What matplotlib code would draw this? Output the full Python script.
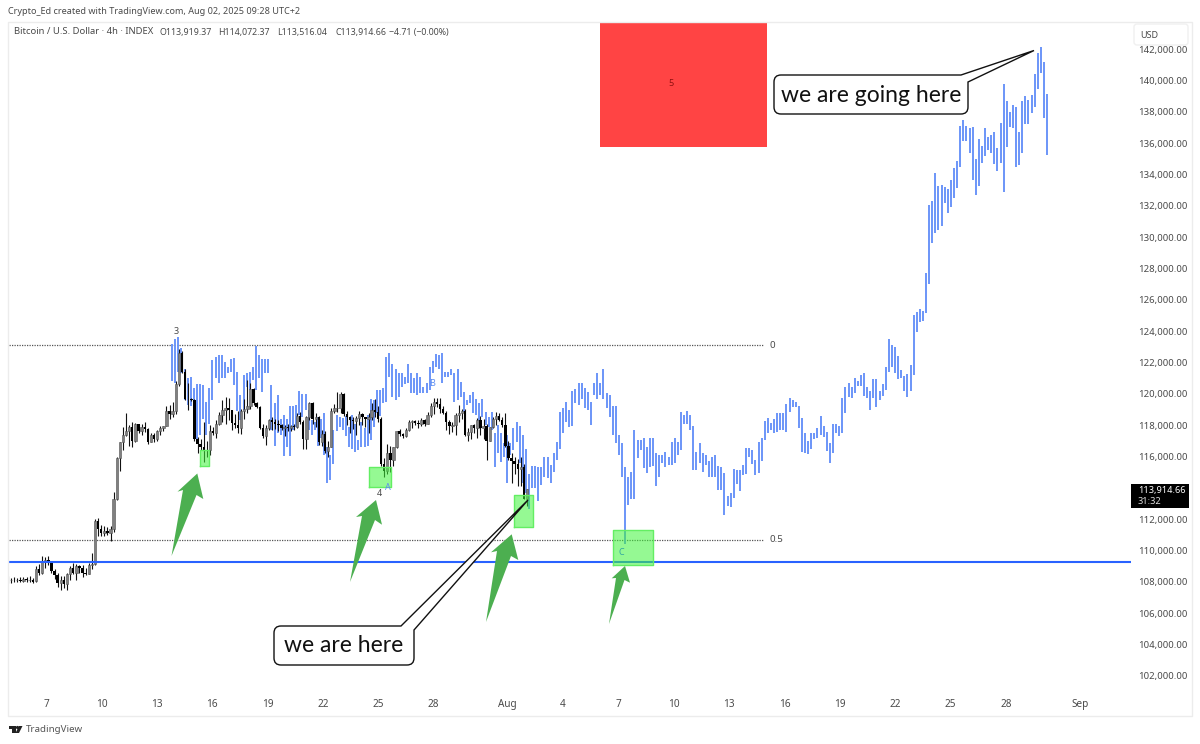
import pandas as pd
import numpy as np
import matplotlib
matplotlib.use('Agg')
import matplotlib.pyplot as plt
from matplotlib.patches import Polygon, Rectangle, FancyBboxPatch, PathPatch, Circle
from matplotlib.path import Path

# Black candles, 4h, in thousands of USD
candle_open = [108.2,108.1,108.15,108.1,108.15,108.05,108.2,108.1,108.15,108.05,108.85,108.55,109.3,109.4,109.2,108.7,108.45,107.95,108.15,107.85,
    108.5,108.9,108.6,109.0,108.9,108.6,108.5,109.1,109.15,111.9,111.4,111.1,111.25,111.1,111.4,113.3,115.9,116.9,117.4,117.6,
    117.9,117.0,118.05,117.6,117.9,117.75,116.95,117.35,117.1,117.6,117.8,117.95,118.9,118.7,118.9,120.6,122.6,121.4,119.7,119.65,
    119.6,117.1,116.8,116.6,116.4,116.4,117.65,117.5,118.1,118.65,119.0,119.1,118.95,118.15,118.0,117.85,118.9,119.05,119.2,120.3,
    119.4,119.15,117.85,117.3,117.85,118.3,118.2,118.05,118.0,117.85,117.9,117.85,117.95,117.9,118.6,118.2,117.1,118.5,119.4,118.4,
    118.55,116.9,117.45,116.35,116.6,118.9,119.1,119.1,120.0,118.7,118.5,118.3,118.25,118.45,118.7,118.5,118.4,118.5,119.0,118.85,
    118.4,115.5,115.1,116.2,115.8,116.6,117.6,117.45,117.3,117.7,118.2,118.25,118.15,118.05,118.3,118.1,118.65,119.2,119.5,119.35,
    119.05,118.8,118.2,117.95,118.0,118.65,118.8,118.9,117.4,117.55,118.0,117.8,118.3,117.8,117.95,117.0,117.9,118.4,118.6,
    118.35,118.0,116.7,115.9,115.7,115.5,115.2,115.3,113.3]
candle_high = [108.35,108.25,108.3,108.25,108.3,108.3,108.3,108.35,108.25,109.0,109.15,109.65,109.6,109.65,109.35,108.85,108.6,108.4,108.35,108.6,
    109.0,109.2,109.15,109.1,109.1,108.9,109.2,109.85,112.0,112.05,111.65,111.55,111.5,111.55,113.75,116.0,116.9,117.9,118.75,118.0,
    118.2,118.15,118.1,118.1,118.2,117.8,117.5,117.5,117.7,117.95,117.95,119.25,119.3,119.45,120.8,122.85,122.75,121.6,120.7,119.75,
    119.7,117.25,117.1,118.2,117.0,118.0,117.9,118.3,118.85,119.6,119.8,119.75,119.0,118.7,118.9,119.05,119.7,120.9,120.7,120.35,
    119.5,119.25,118.05,118.0,118.4,118.5,118.4,118.3,118.1,118.0,118.05,118.0,118.1,118.75,118.85,118.3,118.6,119.5,119.5,118.8,
    118.6,117.7,117.6,117.0,119.1,119.35,120.1,120.1,120.05,118.9,118.6,118.5,118.6,118.9,118.8,118.55,118.75,119.4,119.65,119.2,
    118.5,115.9,116.8,116.7,116.6,117.65,117.75,117.5,117.85,118.3,118.3,118.35,118.35,118.45,118.4,118.85,119.4,119.75,119.75,119.75,
    119.2,118.9,118.3,118.2,118.75,119.3,119.05,119.05,117.8,118.0,118.05,118.45,118.6,118.4,118.1,117.9,118.55,118.85,118.8,
    118.5,118.75,117.0,116.2,115.95,115.85,115.95,115.5,113.9]
candle_low = [107.95,107.95,108.0,108.0,108.0,108.0,108.0,108.0,107.9,108.0,108.45,108.5,108.9,109.05,108.6,108.2,107.7,107.5,107.6,107.5,
    108.1,108.5,108.1,108.6,108.3,108.45,108.5,108.85,109.1,110.9,110.95,110.9,111.0,110.6,111.2,113.2,115.1,116.4,117.3,116.7,
    116.6,116.95,117.5,117.4,117.55,116.8,116.9,116.95,117.0,117.4,117.6,117.95,118.4,118.55,118.7,120.5,121.3,119.6,119.0,119.55,
    117.0,116.2,116.4,115.68,116.0,116.1,117.4,117.2,118.0,118.2,118.1,118.35,117.7,117.8,117.5,117.45,118.4,118.8,119.05,119.3,
    119.1,117.75,117.2,116.75,117.7,117.7,117.75,117.6,117.7,117.3,117.65,117.6,117.7,117.8,118.05,116.5,116.5,118.3,118.1,117.9,
    116.75,116.7,116.2,116.0,116.6,118.8,118.85,118.8,118.6,118.0,117.5,117.75,117.4,118.0,118.0,117.9,117.5,118.3,118.55,118.2,
    115.4,114.7,114.9,115.0,115.4,116.55,117.3,117.2,117.25,117.65,117.8,118.0,117.85,117.95,117.95,118.05,118.5,118.7,119.15,118.75,
    118.7,117.7,117.45,117.55,117.4,118.2,118.4,117.3,117.0,117.1,117.5,117.2,117.4,117.1,115.75,117.0,117.85,118.0,118.25,
    117.9,116.6,115.8,114.3,114.9,114.1,114.1,113.3,112.85]
candle_close = [108.1,108.15,108.1,108.15,108.05,108.2,108.1,108.15,108.0,108.85,108.55,109.3,109.4,109.2,108.7,108.45,107.95,108.15,107.85,108.5,
    108.9,108.6,109.0,108.9,108.6,108.5,109.1,109.15,111.9,111.4,111.1,111.25,111.1,111.4,113.3,115.9,116.9,117.4,117.6,117.9,
    117.0,118.05,117.6,117.9,117.75,116.95,117.35,117.1,117.6,117.8,117.95,118.9,118.7,118.9,120.6,122.6,121.4,119.7,119.65,119.6,
    117.1,116.8,116.6,116.4,116.4,117.65,117.5,118.1,118.65,119.0,119.1,118.95,118.15,118.0,117.85,118.9,119.05,119.2,120.3,119.4,
    119.15,117.85,117.3,117.85,118.3,118.2,118.05,118.0,117.85,117.9,117.85,117.95,117.9,118.6,118.2,117.1,118.5,119.4,118.4,118.55,
    116.9,117.45,116.35,116.6,118.9,119.1,119.1,120.0,118.7,118.5,118.3,118.25,118.45,118.7,118.5,118.4,118.5,119.0,118.85,118.4,
    115.5,115.1,116.2,115.8,116.6,117.6,117.45,117.3,117.7,118.2,118.25,118.15,118.05,118.3,118.1,118.65,119.2,119.5,119.35,119.05,
    118.8,118.2,117.95,118.0,118.65,118.8,118.9,117.4,117.55,118.0,117.8,118.3,117.8,117.95,117.0,117.9,118.4,118.6,118.35,
    118.0,116.7,115.9,115.7,115.5,115.2,115.3,113.3,113.9]

# Projected blue bars, high and low, thousands of USD
blue_high = [123.2,123.5,123.6,122.9,121.6,121.0,121.05,120.35,120.6,120.6,120.55,119.5,120.35,122.15,122.35,122.5,122.5,122.05,121.7,122.25,
    122.3,121.4,119.9,121.2,121.3,121.4,121.7,123.05,122.5,122.2,122.25,122.25,120.55,119.4,119.9,118.4,118.65,118.4,119.2,119.2,
    119.3,120.2,120.0,120.0,119.0,118.3,118.2,118.55,118.4,118.75,116.6,116.1,117.7,118.65,118.55,118.45,118.6,117.9,118.65,118.1,
    117.05,118.2,117.8,118.65,119.7,119.6,120.25,120.25,
    120.35,122.37,122.63,121.9,121.6,121.35,121.3,121.1,121.9,121.3,121.0,121.3,121.1,120.45,120.67,121.73,122.1,122.54,122.48,122.63,
    121.37,121.4,121.6,121.3,121.56,120.78,120.14,119.6,119.9,120.14,119.7,119.4,119.7,118.86,118.55,118.86,117.5,118.0,117.5,116.84,
    117.37,116.84,117.8,118.2,117.95,117.37,116.5,114.9,115.4,115.4,115.3,115.3,116.0,116.0,115.45,116.2,116.95,118.86,119.07,119.5,
    118.97,120.2,120.3,120.67,120.7,120.35,120.14,119.5,120.67,121.3,120.67,121.56,120.03,119.9,119.2,119.2,117.37,116.84,115.35,114.7,
    115.0,117.7,117.05,117.05,117.2,116.6,117.15,117.15,116.2,116.1,116.1,116.3,116.0,116.95,117.15,116.95,118.86,118.65,118.9,118.65,
    117.95,116.3,116.84,116.2,116.1,115.73,115.94,116.1,115.4,115.35,114.93,113.48,
    113.69,115.18,115.14,115.14,115.46,116.56,116.56,116.41,115.78,116.9,117.16,118.29,118.43,118.12,118.37,118.75,118.75,118.75,119.35,119.71,
    119.6,119.5,119.22,118.43,117.48,117.01,117.52,117.48,117.8,118.58,117.95,117.58,116.84,118.05,118.07,117.97,119.71,120.43,120.71,120.43,
    120.99,120.84,121.2,121.3,120.41,120.2,120.92,120.92,120.18,120.63,121.69,123.48,123.11,122.96,122.41,121.52,121.14,121.26,121.84,125.03,
    125.24,125.41,125.3,127.73,
    132.05,132.32,134.11,133.26,133.32,133.2,133.05,133.64,134.43,134.87,137.09,137.47,137.09,136.94,137.04,134.96,136.24,135.81,136.94,136.36,
    136.51,136.68,135.66,137.26,139.77,138.7,138.0,138.4,138.28,136.72,138.68,139.02,138.74,139.06,140.38,141.77,142.11,141.15,139.13]
blue_low = [120.8,120.7,121.4,121.3,119.6,119.3,119.2,118.5,116.8,117.4,118.4,117.4,118.1,119.6,121.0,120.7,121.0,121.0,121.3,121.4,
    120.55,118.9,118.3,119.0,120.45,120.25,120.9,120.25,121.0,120.1,121.3,121.3,117.7,116.7,117.5,117.4,116.05,116.6,116.05,117.7,
    117.9,118.65,118.5,119.0,117.7,117.4,117.7,116.7,117.15,116.1,114.3,114.5,115.55,117.6,117.9,117.7,117.3,116.6,116.5,116.3,
    116.4,116.6,116.6,116.7,117.05,117.9,118.75,118.6,
    119.4,119.5,121.1,119.8,119.6,119.8,120.45,120.6,120.67,120.03,120.03,119.9,120.03,120.03,120.03,120.24,121.3,121.7,121.6,120.67,
    121.1,121.1,121.2,119.45,119.6,119.8,118.86,119.3,119.4,118.75,118.65,118.16,118.5,118.0,117.9,117.7,115.35,116.2,115.67,116.0,
    114.3,116.1,116.4,116.95,115.57,114.3,113.65,112.63,113.97,113.97,113.18,114.2,114.7,114.6,114.3,115.0,115.77,116.5,117.5,118.2,
    117.9,117.95,119.4,119.3,119.7,119.07,118.97,118.0,119.9,119.7,119.9,119.7,119.07,118.54,117.37,116.84,116.1,114.7,110.4,112.9,
    113.3,113.3,115.9,116.4,115.25,114.93,115.35,115.4,114.1,114.67,115.57,115.35,115.45,115.45,115.57,116.1,116.4,118.1,118.1,117.7,
    115.14,115.14,115.57,115.0,115.45,114.7,114.7,114.7,113.85,113.85,112.27,112.84,
    112.76,113.33,114.24,113.82,114.82,114.9,115.95,115.52,114.82,114.97,115.73,117.05,117.48,117.69,117.52,117.58,117.69,117.69,117.58,118.86,
    119.18,119.14,117.8,116.31,116.2,116.16,116.46,117.1,117.16,117.37,117.22,116.37,115.6,116.2,117.52,117.31,117.52,118.75,119.82,119.71,
    120.03,120.5,120.5,119.86,119.71,118.97,119.71,119.18,119.6,119.86,120.24,121.41,121.73,121.35,120.92,120.99,120.2,119.82,120.2,121.2,
    123.92,124.6,124.67,125.13,
    127.0,129.64,130.24,130.45,130.7,132.15,131.56,131.94,132.47,133.11,134.45,136.13,136.13,135.38,133.64,132.68,133.26,134.75,135.17,135.55,
    135.34,134.66,134.2,134.7,132.9,135.73,137.04,136.98,134.49,134.6,135.38,137.21,137.21,137.94,138.28,139.43,140.45,137.62,135.24]

# Levels and zones, USD
fib_levels = [123100, 110680]
fib_labels = ['0', '0.5']
support_level = 109280
last_price = 113914.66
# zones: start, end, low, high
green_zones = [('2025-07-15 08:00', '2025-07-15 20:30', 115400, 116420),
               ('2025-07-24 12:00', '2025-07-25 16:00', 114080, 115350),
               ('2025-08-01 08:30', '2025-08-02 08:40', 111520, 113550),
               ('2025-08-06 17:00', '2025-08-08 21:00', 109080, 111310)]
red_zone = ('2025-08-06 00:00', '2025-08-15 01:00', 135750, 146000)

price_ticks = list(range(102000, 144000, 2000))
date_ticks = ['2025-07-07', '2025-07-10', '2025-07-13', '2025-07-16', '2025-07-19', '2025-07-22', '2025-07-25', '2025-07-28',
              '2025-08-01', '2025-08-04', '2025-08-07', '2025-08-10', '2025-08-13', '2025-08-16', '2025-08-19', '2025-08-22',
              '2025-08-25', '2025-08-28', '2025-09-01']
date_labels = ['7', '10', '13', '16', '19', '22', '25', '28', 'Aug', '4', '7', '10', '13', '16', '19', '22', '25', '28', 'Sep']

# bars are a touch wider than the tick spacing on the screenshot, so fix both ends
candle_time = pd.date_range('2025-07-04 22:30', '2025-08-02 01:30', periods=len(candle_close))
blue_time = pd.date_range('2025-07-13 20:00', '2025-08-30 05:30', periods=len(blue_high))

plt.rcParams['font.family'] = ['Noto Sans', 'DejaVu Sans']
TXT = '#4a4a4a'
W, H = 1200, 744
PX_DAY = 18.46
fig = plt.figure(figsize=(12, 7.44), dpi=100)
ax = fig.add_axes([8 / W, 1 - 695 / H, (1131 - 8) / W, (695 - 22) / H])

# blue bars first, black candles over them
ax.vlines(blue_time, np.array(blue_low) * 1000, np.array(blue_high) * 1000, color='#6b95f8', lw=1.4, zorder=2)

c_open = np.array(candle_open) * 1000
c_close = np.array(candle_close) * 1000
ax.vlines(candle_time, np.array(candle_low) * 1000, np.array(candle_high) * 1000, color='#111111', lw=0.8, zorder=3)
up = c_close >= c_open
ax.bar(candle_time[up], (c_close - c_open)[up], bottom=c_open[up], width=0.13, color='#808080', edgecolor='#555555', lw=0.4, zorder=4)
ax.bar(candle_time[~up], (c_close - c_open)[~up], bottom=c_open[~up], width=0.13, color='#000000', lw=0, zorder=4)

ax.axhline(support_level, color='#2962ff', lw=1.5, zorder=5)
fib_end = pd.Timestamp('2025-08-14 20:00')
for level, label in zip(fib_levels, fib_labels):
    ax.hlines(level, pd.Timestamp('2025-07-04'), fib_end, color='#555555', lw=0.9, linestyle=(0, (1, 1)), zorder=1)
    ax.text(fib_end + pd.Timedelta(hours=8), level, label, color=TXT, fontsize=7, va='center', ha='left')

for start, end, low, high in green_zones:
    t0, t1 = pd.Timestamp(start), pd.Timestamp(end)
    ax.fill_between([t0, t1], low, high, facecolor='#3ff53a', alpha=0.55, edgecolor='none', zorder=6)
    ax.plot([t0, t1, t1, t0, t0], [low, low, high, high, low], color='#63ee63', lw=1, zorder=6)

start, end, low, high = red_zone
ax.fill_between([pd.Timestamp(start), pd.Timestamp(end)], low, high, color='#ff4444', lw=0, zorder=6)
ax.text(pd.Timestamp('2025-08-09 20:40'), 139830, '5', color='#8f1010', fontsize=6.5, ha='center', va='center', zorder=7)

# wave labels
ax.text(pd.Timestamp('2025-07-14 01:00'), 124000, '3', color=TXT, fontsize=6.5, ha='center', va='center', zorder=7)
ax.text(pd.Timestamp('2025-07-25 01:00'), 113620, '4', color=TXT, fontsize=6.5, ha='center', va='center', zorder=7)
ax.text(pd.Timestamp('2025-07-25 13:00'), 114000, 'A', color='#5b8cf2', fontsize=6.5, ha='center', va='center', zorder=7)
ax.text(pd.Timestamp('2025-07-27 22:00'), 120630, 'B', color='#5b8cf2', fontsize=6.5, ha='center', va='center', zorder=7)
ax.text(pd.Timestamp('2025-08-07 04:00'), 109850, 'C', color='#32a8a0', fontsize=6.5, ha='center', va='center', zorder=7)

ax.set_xlim(pd.Timestamp('2025-07-07') - pd.Timedelta(days=38 / PX_DAY), pd.Timestamp('2025-07-07') + pd.Timedelta(days=1085 / PX_DAY))
ax.set_ylim(142000 - (695 - 49) * 63.8, 142000 + (49 - 22) * 63.8)
for s in ax.spines.values():
    s.set_visible(False)
ax.yaxis.tick_right()
ax.set_yticks(price_ticks)
ax.set_yticklabels([f'{p:,.2f}' for p in price_ticks], fontsize=6.9, color=TXT)
ax.set_xticks(pd.to_datetime(date_ticks))
ax.set_xticklabels(date_labels, fontsize=7.2, color=TXT)
ax.get_xticklabels()[8].set_fontweight('bold')
ax.get_xticklabels()[18].set_fontweight('bold')
ax.tick_params(axis='both', length=0)
ax.tick_params(axis='y', pad=5)
ax.tick_params(axis='x', pad=3)

# overlay in screen pixels for drawn annotations and chrome
ov = fig.add_axes([0, 0, 1, 1], facecolor='none')
ov.set_xlim(0, W)
ov.set_ylim(H, 0)
ov.axis('off')

ov.add_patch(Rectangle((8, 22), 1184, 694, fill=False, edgecolor='#ececec', lw=1))


def arrow(tail, left, left_in, tip, right, right_in):
    ov.add_patch(Polygon([tail, left_in, left, tip, right, right_in], closed=True, color='#4caf50', lw=0, zorder=8))


arrow((171.5, 556), (177.5, 491.7), (183, 490), (197.3, 473.5), (203.3, 499), (196.5, 495))
arrow((350, 582), (356, 517), (362, 516), (376, 500), (382, 524.7), (375, 520))
arrow((486, 622), (491, 552.3), (497, 551), (511.7, 534.3), (518.3, 560), (511, 556))
arrow((609, 624), (611.7, 578.3), (616, 578), (625, 566), (630, 582.7), (624.5, 580))


def callout(x0, y0, x1, y1, tip, top_x, right_y, text, r=7):
    v = [(x0 + r, y0), (top_x, y0), tip, (x1, right_y), (x1, y1 - r), (x1, y1), (x1 - r, y1),
         (x0 + r, y1), (x0, y1), (x0, y1 - r), (x0, y0 + r), (x0, y0), (x0 + r, y0), (x0 + r, y0)]
    codes = [Path.MOVETO, Path.LINETO, Path.LINETO, Path.LINETO, Path.LINETO, Path.CURVE3, Path.CURVE3,
             Path.LINETO, Path.CURVE3, Path.CURVE3, Path.LINETO, Path.CURVE3, Path.CURVE3, Path.CLOSEPOLY]
    ov.add_patch(PathPatch(Path(v, codes), facecolor='white', edgecolor='#111111', lw=1, zorder=9))
    ov.text((x0 + x1) / 2, (y0 + y1) / 2 + 0.5, text, fontsize=16.5, family='Lato', color='#111111', ha='center', va='center', zorder=10)


callout(274, 626, 414, 665, (528, 500), 401, 630, 'we are here')
callout(774, 75, 968, 114, (1034, 50.5), 961, 82, 'we are going here')

# price axis chrome
ov.add_patch(FancyBboxPatch((1134, 24), 54, 21, boxstyle='round,pad=0,rounding_size=3', facecolor='white', edgecolor='#f0f0f0', lw=1, zorder=8))
ov.text(1149, 35, 'USD', fontsize=6.5, color=TXT, ha='center', va='center', zorder=9)
ov.add_patch(Rectangle((1131, 484), 58, 24, facecolor='black', lw=0, zorder=8))
ov.text(1138, 490.5, f'{last_price:,.2f}', fontsize=6.6, color='white', fontweight='bold', ha='left', va='center', zorder=9)
ov.text(1138, 501, '31:32', fontsize=6.6, color='#dddddd', ha='left', va='center', zorder=9)

ov.text(8, 12, 'Crypto_Ed created with TradingView.com, Aug 02, 2025 09:28 UTC+2', fontsize=6.55, color=TXT, ha='left', va='center')
ov.text(14, 32, 'Bitcoin / U.S. Dollar · 4h · INDEX', fontsize=6.8, color=TXT, ha='left', va='center')
for x, part in zip([159, 218, 277, 335, 389], ['O113,919.37', 'H114,072.37', 'L113,516.04', 'C113,914.66', '−4.71 (−0.00%)']):
    ov.text(x, 32, part, fontsize=6.35, color=TXT, ha='left', va='center')

# TradingView logo
ov.add_patch(Polygon([(8.5, 726), (15.5, 726), (15.5, 733), (12, 733), (12, 729), (8.5, 729)], color='#222222', lw=0))
ov.add_patch(Circle((17.5, 727.5), 1.6, color='#222222', lw=0))
ov.add_patch(Polygon([(15.5, 733), (19, 726), (22.5, 726), (19, 733)], color='#222222', lw=0))
ov.text(26, 730, 'TradingView', fontsize=7, color='#555555', ha='left', va='center')

fig.savefig('out.png', dpi=100, facecolor='white')
